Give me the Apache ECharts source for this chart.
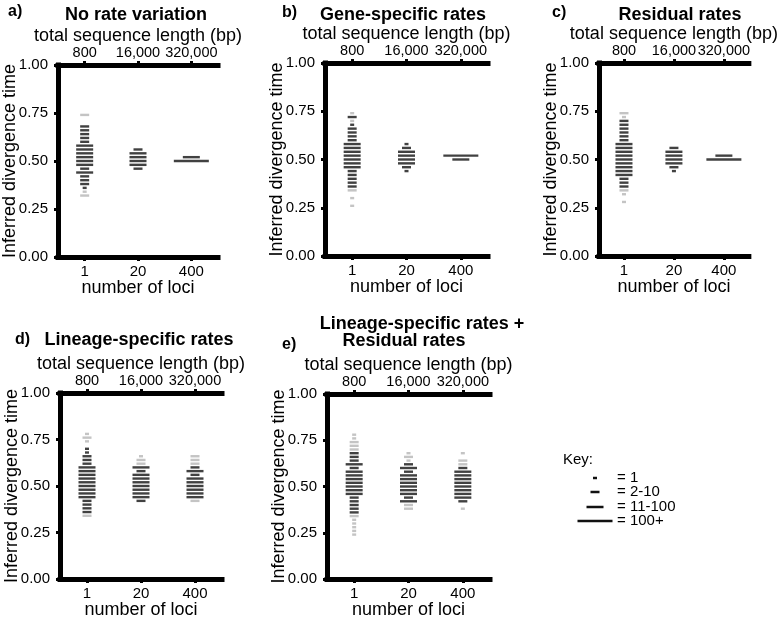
<!DOCTYPE html>
<html>
<head>
    <meta charset="utf-8">
    <title>ECharts</title>
    <script src="https://cdn.jsdelivr.net/npm/echarts@6/dist/echarts.min.js"></script>
    <style>
      body, canvas {
        padding: 0;
        margin: 0;
      }
    </style>
</head>
<body>
    <div id="main" style="width:780px;height:620px"></div>
    <script type="text/javascript">
      // tick labels
      const lociLabels = ['1', '20', '400'];
      const lengthLabels = ['800', '16,000', '320,000'];
      const keyLabels = ['= 1', '= 2-10', '= 11-100', '= 100+'];

      // each bin: [divergence time, code]; code = shade (k black, g grey) + count class (1: 1, 2: 2-10, 3: 11-100, 4: 100+)
      const a1 = [[0.74,'g2'],[0.68,'k2'],[0.66,'k2'],[0.64,'k2'],[0.62,'k2'],[0.60,'k2'],[0.58,'k3'],[0.56,'k3'],[0.54,'k3'],[0.52,'k3'],[0.50,'k3'],[0.48,'k3'],[0.46,'k2'],[0.44,'k3'],[0.42,'k2'],[0.40,'k2'],[0.38,'k2'],[0.36,'k1'],[0.34,'g1'],[0.32,'g2']];
      const a20 = [[0.56,'k2'],[0.54,'k3'],[0.52,'k3'],[0.50,'k3'],[0.48,'k3'],[0.46,'k2']];
      const a400 = [[0.52,'k3'],[0.50,'k4']];

      const b1 = [[0.74,'g1'],[0.72,'k2'],[0.70,'g1'],[0.68,'k1'],[0.66,'k2'],[0.64,'k2'],[0.62,'k2'],[0.60,'k2'],[0.58,'k3'],[0.56,'k3'],[0.54,'k3'],[0.52,'k3'],[0.50,'k3'],[0.48,'k3'],[0.46,'k3'],[0.44,'k2'],[0.42,'k2'],[0.40,'k2'],[0.38,'k2'],[0.36,'k2'],[0.34,'g2'],[0.30,'g1'],[0.26,'g1']];
      const b20 = [[0.58,'k1'],[0.56,'k2'],[0.54,'k3'],[0.52,'k3'],[0.50,'k3'],[0.48,'k3'],[0.46,'k2'],[0.44,'k1']];
      const b400 = [[0.52,'k4'],[0.50,'k3']];

      const c1 = [[0.74,'g2'],[0.72,'g1'],[0.70,'k2'],[0.68,'k2'],[0.66,'k2'],[0.64,'k2'],[0.62,'k2'],[0.60,'k2'],[0.58,'k3'],[0.56,'k3'],[0.54,'k3'],[0.52,'k3'],[0.50,'k3'],[0.48,'k3'],[0.46,'k3'],[0.44,'k3'],[0.42,'k3'],[0.40,'k2'],[0.38,'k2'],[0.36,'k2'],[0.34,'g2'],[0.32,'g1'],[0.28,'g1']];
      const c20 = [[0.56,'k2'],[0.54,'k3'],[0.52,'k3'],[0.50,'k3'],[0.48,'k3'],[0.46,'k2'],[0.44,'k1']];
      const c400 = [[0.52,'k3'],[0.50,'k4']];

      const d1 = [[0.78,'g1'],[0.76,'g2'],[0.74,'g1'],[0.70,'k1'],[0.68,'k1'],[0.66,'k2'],[0.64,'k2'],[0.62,'k2'],[0.60,'k3'],[0.58,'k3'],[0.56,'k3'],[0.54,'k3'],[0.52,'k3'],[0.50,'k3'],[0.48,'k3'],[0.46,'k3'],[0.44,'k3'],[0.42,'k2'],[0.40,'k2'],[0.38,'k2'],[0.36,'k2'],[0.34,'g2']];
      const d20 = [[0.66,'g1'],[0.64,'g2'],[0.62,'g2'],[0.60,'k3'],[0.58,'k2'],[0.56,'k3'],[0.54,'k3'],[0.52,'k3'],[0.50,'k3'],[0.48,'k3'],[0.46,'k3'],[0.44,'k3'],[0.42,'k2']];
      const d400 = [[0.66,'g2'],[0.64,'g2'],[0.62,'g2'],[0.60,'k2'],[0.58,'k3'],[0.56,'k2'],[0.54,'k3'],[0.52,'k3'],[0.50,'k3'],[0.48,'k3'],[0.46,'k3'],[0.44,'k3'],[0.42,'g2']];

      const e1 = [[0.78,'g1'],[0.76,'g1'],[0.74,'g2'],[0.72,'g2'],[0.70,'g2'],[0.68,'k2'],[0.66,'k2'],[0.64,'k2'],[0.62,'k3'],[0.60,'k2'],[0.58,'k3'],[0.56,'k3'],[0.54,'k3'],[0.52,'k3'],[0.50,'k3'],[0.48,'k3'],[0.46,'k3'],[0.44,'k2'],[0.42,'k2'],[0.40,'k2'],[0.38,'k2'],[0.36,'k2'],[0.34,'g2'],[0.32,'g1'],[0.30,'g1'],[0.28,'g1'],[0.26,'g1'],[0.24,'g1']];
      const e20 = [[0.68,'g1'],[0.66,'g2'],[0.64,'g1'],[0.62,'k2'],[0.60,'k3'],[0.58,'k2'],[0.56,'k3'],[0.54,'k3'],[0.52,'k3'],[0.50,'k3'],[0.48,'k3'],[0.46,'k3'],[0.44,'k2'],[0.42,'k3'],[0.40,'g2'],[0.38,'g2']];
      const e400 = [[0.68,'g1'],[0.64,'g2'],[0.62,'g2'],[0.60,'k2'],[0.58,'k3'],[0.56,'k3'],[0.54,'k3'],[0.52,'k3'],[0.50,'k3'],[0.48,'k3'],[0.46,'k3'],[0.44,'k3'],[0.42,'k2'],[0.38,'g1']];

      const FONT = '"Liberation Sans", Arial, sans-serif';
      const dashWidth = [0, 4, 9, 17, 35];
      const shade = { k: '#111111', g: '#b5b5b5' };

      const panels = [
        { cols: [a1, a20, a400], grid: { left: 55, top: 65, width: 163, height: 192 } },
        { cols: [b1, b20, b400], grid: { left: 325, top: 63, width: 163, height: 193 } },
        { cols: [c1, c20, c400], grid: { left: 599, top: 63, width: 161, height: 193 } },
        { cols: [d1, d20, d400], grid: { left: 60, top: 393, width: 162, height: 192 } },
        { cols: [e1, e20, e400], grid: { left: 327, top: 394, width: 163, height: 192 } }
      ];

      const axisLine = { show: true, lineStyle: { color: '#000', width: 5, cap: 'square' } };
      const axisTick = { show: true, alignWithLabel: true, length: 4, lineStyle: { color: '#000', width: 3 } };
      const labelStyle = { color: '#000', fontSize: 15, fontFamily: FONT };
      const nameStyle = { color: '#000', fontSize: 18, fontFamily: FONT };

      const grid = [], xAxis = [], yAxis = [], series = [];
      panels.forEach((p, i) => {
        grid.push(Object.assign({ containLabel: false }, p.grid));
        xAxis.push({
          type: 'category', gridIndex: i, position: 'bottom', data: lociLabels,
          axisLine, axisTick, splitLine: { show: false },
          axisLabel: Object.assign({ margin: 7, interval: 0 }, labelStyle),
          name: 'number of loci', nameLocation: 'middle', nameGap: 22, nameMoveOverlap: false,
          nameTextStyle: nameStyle
        });
        xAxis.push({
          type: 'category', gridIndex: i, position: 'top', data: lengthLabels,
          axisLine, axisTick, splitLine: { show: false },
          axisLabel: Object.assign({ margin: 5, interval: 0 }, labelStyle, { fontSize: 14.5 }),
          name: 'total sequence length (bp)', nameLocation: 'middle', nameGap: 20, nameMoveOverlap: false,
          nameTextStyle: nameStyle
        });
        yAxis.push({
          type: 'value', gridIndex: i, min: 0, max: 1, interval: 0.25,
          axisLine, axisTick: { show: true, length: 4, lineStyle: { color: '#000', width: 3 } },
          splitLine: { show: false },
          axisLabel: Object.assign({ margin: 10, formatter: v => v.toFixed(2) }, labelStyle),
          name: 'Inferred divergence time', nameLocation: 'middle', nameGap: 39, nameMoveOverlap: false,
          nameTextStyle: nameStyle
        });
        p.cols.forEach((col, c) => {
          series.push({
            type: 'scatter', xAxisIndex: i * 2, yAxisIndex: i, silent: true, animation: false,
            symbol: 'rect',
            data: col.map(([v, code]) => ({
              value: [lociLabels[c], v],
              symbolSize: [dashWidth[+code[1]], 2.4],
              itemStyle: { color: shade[code[0]] }
            }))
          });
        });
      });

      const txt = (x, y, text, font, align) => ({
        type: 'text', x, y, silent: true,
        style: { text, font, fill: '#000', textAlign: align || 'center', textVerticalAlign: 'middle', align: align || 'center', verticalAlign: 'middle' }
      });
      const bold16 = 'bold 16px ' + FONT;
      const bold18 = 'bold 18px ' + FONT;
      const graphic = [
        txt(8, 12, 'a)', bold16, 'left'), txt(136, 15, 'No rate variation', bold18),
        txt(282, 13, 'b)', bold16, 'left'), txt(403, 15, 'Gene-specific rates', bold18),
        txt(552, 13, 'c)', bold16, 'left'), txt(680, 15, 'Residual rates', bold18),
        txt(15, 340, 'd)', bold16, 'left'), txt(139, 340, 'Lineage-specific rates', bold18),
        txt(282, 345, 'e)', bold16, 'left'), txt(422, 324, 'Lineage-specific rates +', bold18),
        txt(404, 341, 'Residual rates', bold18),
        txt(563, 460, 'Key:', '15px ' + FONT, 'left')
      ];
      const keyY = [478, 492, 507, 521];
      keyLabels.forEach((k, i) => {
        const w = dashWidth[i + 1];
        graphic.push({ type: 'rect', silent: true, shape: { x: 595 - w / 2, y: keyY[i] - 1.25, width: w, height: 2.5 }, style: { fill: '#111' } });
        graphic.push(txt(617, keyY[i], k, '15px ' + FONT, 'left'));
      });

      const myChart = echarts.init(document.getElementById('main'));
      myChart.setOption({
        backgroundColor: '#fff',
        animation: false,
        textStyle: { fontFamily: FONT },
        grid, xAxis, yAxis, series, graphic
      });
    </script>
</body>
</html>
